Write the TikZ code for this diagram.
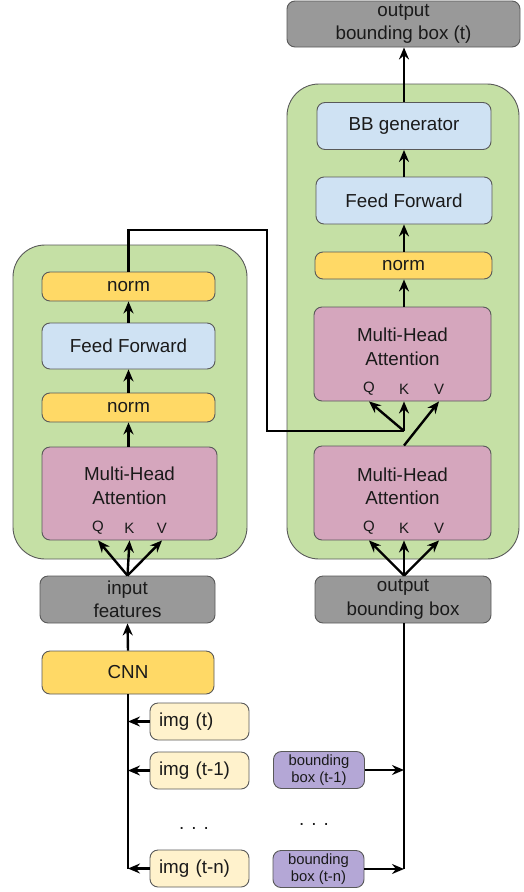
\documentclass[tikz,border=0pt]{standalone}
\usepackage{fontspec}
\setmainfont{Liberation Sans}
\usetikzlibrary{arrows.meta}
\definecolor{cgreen}{HTML}{C5E0A5}
\definecolor{cblue}{HTML}{CFE2F3}
\definecolor{cyellow}{HTML}{FFD966}
\definecolor{cpink}{HTML}{D5A6BD}
\definecolor{cgray}{HTML}{999999}
\definecolor{clight}{HTML}{FFF2CC}
\definecolor{cpurple}{HTML}{B4A7D6}
\definecolor{cborder}{HTML}{595959}
\definecolor{ctext}{HTML}{1A1A1A}
\begin{document}
\begin{tikzpicture}[x=1pt,y=-1pt,
  box/.style={draw=cborder, line width=0.9pt, rounded corners=8pt, inner sep=0pt, align=center,
    text=ctext, font=\fontsize{18.8}{23.5}\selectfont},
  container/.style={draw=cborder, line width=0.9pt, fill=cgreen, rounded corners=32pt, inner sep=0pt},
  big/.style={font=\fontsize{18.8}{23.5}\selectfont, text=ctext, align=center, inner sep=0pt},
  small/.style={font=\fontsize{15}{17}\selectfont, text=ctext, inner sep=0pt},
  imgbox/.style={box, fill=clight, minimum width=99pt, minimum height=37pt, text width=81pt, inner xsep=9pt, align=left},
  bbbox/.style={box, fill=cpurple, font=\fontsize{14.8}{17.5}\selectfont, minimum width=91pt, minimum height=37pt},
  arr/.style={line width=2.4pt, -{Stealth[length=12pt,width=10pt,inset=4pt]}},
  ln/.style={line width=2.4pt}]
\useasboundingbox (0,0) rectangle (524,892);

% ---------- left encoder ----------
\node[container, minimum width=234pt, minimum height=314pt] (lgreen) at (130,402) {};
\node[box, fill=cyellow, minimum width=173pt, minimum height=29pt] (lnormb) at (128.5,286.5) {norm};
\node[box, fill=cblue, minimum width=173pt, minimum height=46pt] (lff) at (128.5,346) {Feed Forward};
\node[box, fill=cyellow, minimum width=173pt, minimum height=29pt] (lnorma) at (128.5,407.5) {norm};
\node[box, fill=cpink, minimum width=175pt, minimum height=93pt] (lmha) at (129.5,493.5) {};
\node[big] (lmhat) at (129.5,486) {Multi-Head\\Attention};
\node[small] (lq) at (98,528) {Q};
\node[small] (lk) at (129.5,528) {K};
\node[small] (lv) at (162,528) {V};

\node[box, fill=cgray, minimum width=175pt, minimum height=47pt] (input) at (127.5,599.5) {input\\features};
\node[box, fill=cyellow, minimum width=172pt, minimum height=43pt] (cnn) at (128,672.5) {CNN};

\node[imgbox] (img0) at (199.5,721.5) {img (t)};
\node[imgbox] (img1) at (199.5,770.5) {img (t-1)};
\node[big, anchor=base] (ldots) at (194,829) {.\hspace{7pt}.\hspace{7pt}.};
\node[imgbox] (imgn) at (199.5,868.5) {img (t-n)};

% ---------- right decoder ----------
\node[box, fill=cgray, minimum width=233pt, minimum height=46pt] (outt) at (403.5,24) {output\\bounding box (t)};
\node[container, minimum width=232pt, minimum height=475pt] (rgreen) at (403,321.5) {};
\node[box, fill=cblue, minimum width=174pt, minimum height=47pt] (bbgen) at (404,126) {BB generator};
\node[box, fill=cblue, minimum width=176pt, minimum height=47pt] (rff) at (404,200.5) {Feed Forward};
\node[box, fill=cyellow, minimum width=177pt, minimum height=27pt] (rnorm) at (403.5,265.5) {norm};
\node[box, fill=cpink, minimum width=177pt, minimum height=94pt] (rmhb) at (402.5,354) {};
\node[big] (rmhbt) at (402.5,347) {Multi-Head\\Attention};
\node[small] (rbq) at (369,389) {Q};
\node[small] (rbk) at (404,389) {K};
\node[small] (rbv) at (439,389) {V};
\node[box, fill=cpink, minimum width=177pt, minimum height=94pt] (rmha) at (402.5,493) {};
\node[big] (rmhat) at (402.5,486.5) {Multi-Head\\Attention};
\node[small] (raq) at (369,528) {Q};
\node[small] (rak) at (404,528) {K};
\node[small] (rav) at (439,528) {V};

\node[box, fill=cgray, minimum width=176pt, minimum height=47pt] (outbb) at (403,599.5) {output\\bounding box};

\node[bbbox] (bb1) at (319,770) {bounding\\box (t-1)};
\node[big, anchor=base] (rdots) at (314,825) {.\hspace{7pt}.\hspace{7pt}.};
\node[bbbox] (bbn) at (318.5,869) {bounding\\box (t-n)};

% ---------- connectors, left ----------
\draw[arr] (input.north) -- (lmha.south -| lq);
\draw[arr] (input.north) -- (lmha.south -| lk);
\draw[arr] (input.north) -- (lmha.south -| lv);
\draw[arr] (lmha.north -| lnorma) -- (lnorma.south);
\draw[arr] (lnorma.north) -- (lff.south);
\draw[arr] (lff.north) -- (lnormb.south);
\draw[arr] (cnn.north) -- (input.south);

\coordinate (lbot) at (cnn.south |- imgn.west);
\draw[ln] (cnn.south) -- (lbot);
\draw[arr] (img0.west) -- (img0.west -| cnn.south);
\draw[arr] (img1.west) -- (img1.west -| cnn.south);
\draw[arr] (imgn.west) -- (lbot);

% ---------- encoder to decoder ----------
\coordinate (j) at (404,431);
\draw[ln, line join=miter] (lnormb.north) -- (lnormb.north |- 0,230) -- (267,230) -- (267,431) -- (j);
\draw[arr] (j) -- (rmhb.south -| rbq);
\draw[arr] (j) -- (rmhb.south -| rbk);
\draw[arr] (rmha.north -| rbk) -- (rmhb.south -| rbv);

% ---------- connectors, right ----------
\draw[arr] (outbb.north -| rak) -- (rmha.south -| raq);
\draw[arr] (outbb.north -| rak) -- (rmha.south -| rak);
\draw[arr] (outbb.north -| rak) -- (rmha.south -| rav);
\draw[arr] (rmhb.north -| rbk) -- (rnorm.south -| rbk);
\draw[arr] (rnorm.north -| rbk) -- (rff.south -| rbk);
\draw[arr] (rff.north -| rbk) -- (bbgen.south -| rbk);
\draw[arr] (bbgen.north -| rbk) -- (outt.south -| rbk);

\coordinate (rbot) at (outbb.south -| rak);
\coordinate (rend) at (rak |- bbn.east);
\draw[ln] (rbot) -- (rend);
\draw[arr] (bb1.east) -- (bb1.east -| rak);
\draw[arr] (bbn.east) -- (rend);
\end{tikzpicture}
\end{document}
